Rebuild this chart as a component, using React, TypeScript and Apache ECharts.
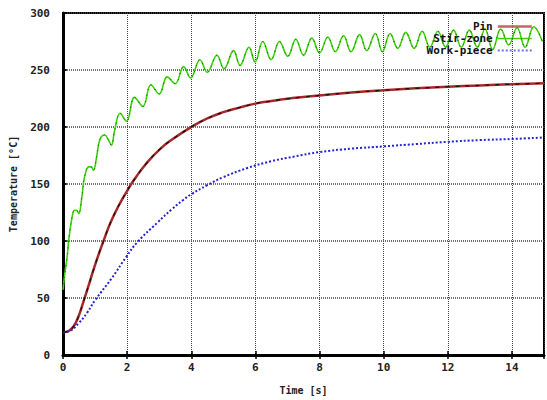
import React, { useEffect, useRef } from "react";
import * as echarts from "echarts";

const xTicks = [0, 2, 4, 6, 8, 10, 12, 14];
const yTicks = [0, 50, 100, 150, 200, 250, 300];
const seriesNames = ["Pin", "Stir-zone", "Work-piece"];

const pin: number[][] = [
  [0, 20], [0.1, 20.3], [0.2, 21.5], [0.3, 24], [0.4, 28.5], [0.5, 35], [0.64, 47],
  [0.8, 61], [1.0, 79], [1.25, 99], [1.56, 121], [2.0, 144], [2.3, 157], [2.6, 168],
  [3.0, 180], [3.4, 189], [4.0, 200], [4.5, 207.5], [5.0, 213], [5.5, 217], [6.0, 220.5],
  [6.5, 222.8], [7.0, 224.8], [7.5, 226.3], [8.0, 227.7], [9.0, 230.2], [10, 232.2],
  [11, 233.9], [12, 235.3], [13, 236.5], [14, 237.5], [15, 238.4],
];

const stirZone: number[][] = [
  [0, 57], [0.06, 72], [0.13, 86], [0.18, 101], [0.29, 122], [0.36, 127], [0.42, 127],
  [0.49, 124], [0.59, 139], [0.67, 156], [0.8, 165], [0.88, 165], [0.95, 162], [1.05, 174],
  [1.15, 189], [1.3, 193], [1.41, 189], [1.51, 184], [1.61, 197], [1.78, 212], [1.98, 205],
  [2.23, 226], [2.49, 218], [2.74, 237], [3.0, 229], [3.25, 244], [3.5, 238], [3.76, 253],
  [3.98, 243], [4.27, 259], [4.5, 248], [4.8, 263], [5.02, 251], [5.32, 267], [5.52, 254],
  [5.8, 270], [5.99, 257], [6.23, 275], [6.49, 259], [6.75, 275], [7.01, 262], [7.26, 277],
  [7.5, 263], [7.76, 278], [8.0, 265], [8.26, 279], [8.49, 266], [8.75, 280], [8.98, 266],
  [9.25, 281], [9.47, 267], [9.74, 282], [9.96, 266], [10.2, 282], [10.44, 269], [10.69, 283],
  [10.95, 269], [11.2, 284], [11.44, 270], [11.69, 284], [11.93, 270], [12.18, 285],
  [12.42, 270], [12.67, 285], [12.92, 270], [13.16, 286], [13.4, 268], [13.65, 286],
  [13.9, 272], [14.16, 287], [14.41, 270], [14.68, 288], [14.95, 275],
];

const workPiece: number[][] = [
  [0, 20], [0.2, 21], [0.49, 28], [0.75, 37], [1.0, 48], [1.51, 67], [1.97, 86], [2.32, 99],
  [2.94, 116], [3.4, 128], [3.75, 136], [4.0, 141], [4.5, 149], [5.0, 156], [5.75, 164],
  [6.5, 170], [7.2, 174], [8.0, 178], [9.0, 181], [10, 183], [11, 185], [12, 187],
  [13, 188.5], [14, 189.5], [15, 190.8],
];

const FONT = "DejaVu Sans Mono";

export default function App() {
  const ref = useRef<HTMLDivElement>(null);
  useEffect(() => {
    if (!ref.current) return;
    const chart = echarts.init(ref.current, null, { renderer: "svg" });
    const labelFmt = (v: number) => (xTicks.includes(v) ? String(v) : "");
    chart.setOption({
      animation: false,
      backgroundColor: "#fff",
      grid: {
        left: 62,
        right: -5,
        top: 13,
        bottom: 45,
        show: true,
        borderColor: "#000",
        borderWidth: 2,
      },
      legend: {
        data: [
          { name: seriesNames[0], lineStyle: { color: "#c86464", width: 2.5, type: "solid" } },
          { name: seriesNames[1], lineStyle: { color: "#3ad10a", width: 1.6, type: "solid" } },
          { name: seriesNames[2], lineStyle: { color: "#7070e0", width: 2, type: [2, 2] } },
        ],
        orient: "vertical",
        right: 9,
        top: 16,
        align: "right",
        itemWidth: 34,
        itemHeight: 2,
        itemGap: 1,
        itemStyle: { opacity: 0 },
        formatter: (name: string) => `{a|${name}}`,
        textStyle: {
          fontFamily: FONT,
          fontWeight: "bold",
          fontSize: 11,
          color: "#111",
          rich: { a: { width: 70, align: "right", fontFamily: FONT, fontWeight: "bold", fontSize: 11, color: "#111" } },
        },
      },
      xAxis: [
        {
          type: "value",
          min: 0,
          max: 15,
          interval: 2,
          name: "Time [s]",
          nameLocation: "middle",
          nameGap: 30,
          nameTextStyle: { fontFamily: FONT, fontWeight: "bold", fontSize: 10, color: "#222" },
          axisLine: { show: true, onZero: false, lineStyle: { color: "#000", width: 3 } },
          axisTick: { show: true, inside: true, length: 4, lineStyle: { color: "#000", width: 1.5 } },
          axisLabel: {
            formatter: labelFmt,
            fontFamily: FONT,
            fontWeight: "bold",
            fontSize: 11,
            color: "#222",
            margin: 7,
          },
          splitLine: { show: true, lineStyle: { type: [1, 1], color: "#444", width: 1 } },
        },
        {
          type: "value",
          position: "top",
          min: 0,
          max: 15,
          interval: 2,
          axisLine: { show: true, lineStyle: { color: "#000", width: 2 } },
          axisTick: { show: true, inside: true, length: 4, lineStyle: { color: "#000", width: 1.5 } },
          axisLabel: { show: false },
          splitLine: { show: false },
        },
      ],
      yAxis: {
        type: "value",
        min: 0,
        max: 300,
        interval: 50,
        name: "Temperature [°C]",
        nameLocation: "middle",
        nameGap: 45,
        nameTextStyle: { fontFamily: FONT, fontWeight: "bold", fontSize: 10, color: "#222" },
        axisLine: { show: true, lineStyle: { color: "#000", width: 3 } },
        axisTick: { show: true, inside: true, length: 4, lineStyle: { color: "#000", width: 1.5 } },
        axisLabel: {
          formatter: (v: number) => (yTicks.includes(v) ? String(v) : ""),
          fontFamily: FONT,
          fontWeight: "bold",
          fontSize: 11,
          color: "#222",
          margin: 13,
        },
        splitLine: { show: true, lineStyle: { type: [1, 1], color: "#444", width: 1.5 } },
      },
      series: [
        {
          name: "Pin",
          type: "line",
          data: pin,
          smooth: true,
          symbol: "none",
          color: "#c05050",
          lineStyle: { color: "#a82828", width: 2.5 },
          z: 3,
        },
        {
          name: "Pin data",
          type: "line",
          data: pin,
          smooth: true,
          symbol: "none",
          lineStyle: { color: "#111", width: 1.2, type: [4, 6] },
          z: 4,
        },
        {
          name: "Stir-zone",
          type: "line",
          data: stirZone,
          smooth: 0.4,
          symbol: "none",
          color: "#33cc00",
          lineStyle: { color: "#3ad10a", width: 1.6 },
          z: 3,
        },
        {
          name: "Stir-zone data",
          type: "line",
          data: stirZone,
          smooth: 0.4,
          symbol: "none",
          lineStyle: { color: "#1a5a00", width: 1, type: [1, 5] },
          z: 4,
        },
        {
          name: "Work-piece",
          type: "line",
          data: workPiece,
          smooth: true,
          symbol: "none",
          color: "#2323d0",
          lineStyle: { color: "#2323d0", width: 2, type: [2, 2] },
          z: 3,
        },
      ],
    });
    return () => chart.dispose();
  }, []);
  return (
    <div
      ref={ref}
      style={{ position: "absolute", left: 0, top: 0, width: 547, height: 400, background: "#fff" }}
    />
  );
}
